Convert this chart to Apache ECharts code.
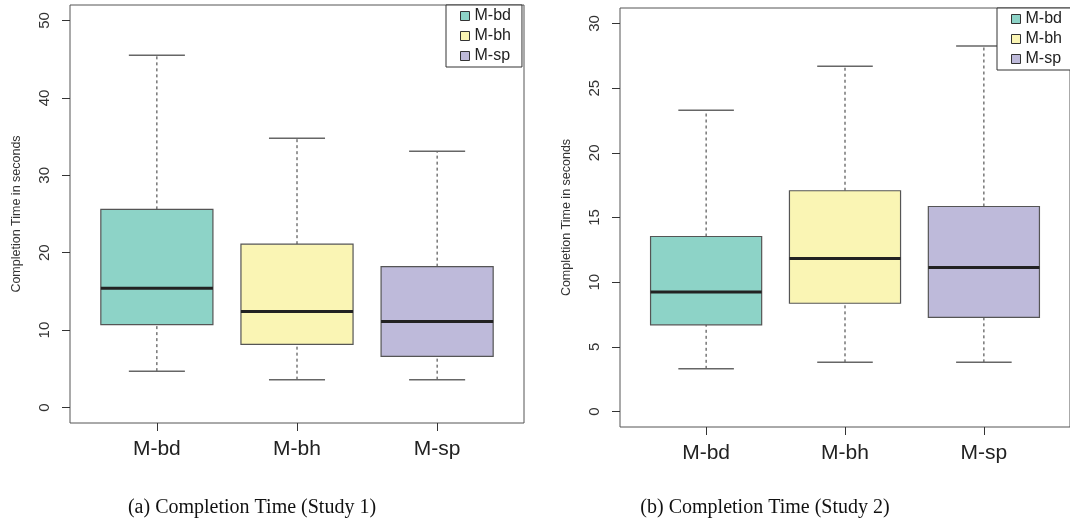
<!DOCTYPE html>
<html><head><meta charset="utf-8">
<script src="https://cdn.jsdelivr.net/npm/echarts@6/dist/echarts.min.js"></script>
<style>html,body{margin:0;padding:0;background:#fff}#c{width:1070px;height:532px}</style>
</head><body><div id="c"></div>
<script>
// ---- data ----
const categories = ['M-bd', 'M-bh', 'M-sp'];
const boxColors = ['#8DD3C7', '#FAF5B4', '#BEBADA'];

// Study 1 (per category): lower whisker, Q1, median, Q3, upper whisker
const s1Low    = [4.7, 3.6, 3.6];
const s1Q1     = [10.7, 8.15, 6.6];
const s1Median = [15.4, 12.4, 11.1];
const s1Q3     = [25.6, 21.1, 18.2];
const s1High   = [45.5, 34.8, 33.1];

// Study 2
const s2Low    = [3.3, 3.8, 3.8];
const s2Q1     = [6.7, 8.37, 7.28];
const s2Median = [9.24, 11.83, 11.13];
const s2Q3     = [13.53, 17.07, 15.85];
const s2High   = [23.3, 26.7, 28.27];

const yTicks1 = [0, 10, 20, 30, 40, 50];
const yTicks2 = [0, 5, 10, 15, 20, 25, 30];
const captions = ['(a) Completion Time (Study 1)', '(b) Completion Time (Study 2)'];
const yName = 'Completion Time in seconds';

// ---- chart ----
const FONT = '"Liberation Sans", Arial, Helvetica, sans-serif';

function renderBox(params, api) {
  const x = api.value(0);
  const lo = api.value(1), q1 = api.value(2), md = api.value(3), q3 = api.value(4), hi = api.value(5);
  const c = (xx, yy) => api.coord([xx, yy]);
  const pLo = c(x, lo), pQ1 = c(x, q1), pMd = c(x, md), pQ3 = c(x, q3), pHi = c(x, hi);
  const xl = c(x - 0.4, 0)[0], xr = c(x + 0.4, 0)[0];
  const cl = c(x - 0.2, 0)[0], cr = c(x + 0.2, 0)[0];
  const color = api.visual('color');
  const dash = { stroke: '#333', lineWidth: 1, lineDash: [3, 3] };
  const cap = { stroke: '#666', lineWidth: 1.5 };
  return {
    type: 'group',
    children: [
      { type: 'line', shape: { x1: pLo[0], y1: pLo[1], x2: pQ1[0], y2: pQ1[1] }, style: dash },
      { type: 'line', shape: { x1: pQ3[0], y1: pQ3[1], x2: pHi[0], y2: pHi[1] }, style: dash },
      { type: 'line', shape: { x1: cl, y1: pLo[1], x2: cr, y2: pLo[1] }, style: cap },
      { type: 'line', shape: { x1: cl, y1: pHi[1], x2: cr, y2: pHi[1] }, style: cap },
      { type: 'rect', shape: { x: xl, y: pQ3[1], width: xr - xl, height: pQ1[1] - pQ3[1] },
        style: { fill: color, stroke: '#555', lineWidth: 1.2 } },
      { type: 'line', shape: { x1: xl, y1: pMd[1], x2: xr, y2: pMd[1] }, style: { stroke: '#222', lineWidth: 3 } }
    ]
  };
}

const studies = [
  { low: s1Low, q1: s1Q1, med: s1Median, q3: s1Q3, high: s1High, ticks: yTicks1, min: -2, max: 52 },
  { low: s2Low, q1: s2Q1, med: s2Median, q3: s2Q3, high: s2High, ticks: yTicks2, min: -1.2, max: 31.2 }
];

const grids = [
  { left: 70, top: 5, width: 454, height: 418 },
  { left: 620, top: 8, width: 454, height: 419 }
];

const option = {
  animation: false,
  backgroundColor: '#fff',
  grid: grids.map(g => Object.assign({ show: true, borderColor: '#555', borderWidth: 1, backgroundColor: 'transparent' }, g)),
  xAxis: grids.map((g, i) => ({
    type: 'value', gridIndex: i, min: 0.38, max: 3.62,
    splitLine: { show: false }, axisLine: { show: false, onZero: false },
    axisTick: { show: true, length: 8, inside: false, customValues: [1, 2, 3], lineStyle: { color: '#333' } },
    axisLabel: { customValues: [1, 2, 3], formatter: v => categories[Math.round(v) - 1],
      fontSize: 21, color: '#222', margin: 16, fontFamily: FONT }
  })),
  yAxis: studies.map((s, i) => ({
    type: 'value', gridIndex: i, min: s.min, max: s.max,
    splitLine: { show: false }, axisLine: { show: false, onZero: false },
    axisTick: { show: true, length: 8, inside: false, customValues: s.ticks, lineStyle: { color: '#333' } },
    axisLabel: { customValues: s.ticks, rotate: 90, fontSize: 15, color: '#333', margin: 18, fontFamily: FONT },
    name: yName, nameLocation: 'middle', nameGap: 47,
    nameTextStyle: { fontSize: 12.5, color: '#333', fontFamily: FONT }
  })),
  legend: [
    { left: 446, top: 5 },
    { left: 997, top: 8 }
  ].map(p => ({
    left: p.left, top: p.top, orient: 'vertical', icon: 'rect',
    itemWidth: 9, itemHeight: 9, itemGap: 4, padding: [3, 11, 3, 14],
    borderColor: '#333', borderWidth: 1, borderRadius: 0, backgroundColor: '#fff',
    selectedMode: false,
    textStyle: { fontSize: 16, color: '#222', fontFamily: FONT },
    data: categories.map((n, i) => ({ name: n, itemStyle: { color: boxColors[i], borderColor: '#333', borderWidth: 1 } }))
  })),
  series: [],
  graphic: captions.map((t, i) => ({
    type: 'text', x: [252, 765][i], y: 508,
    style: { text: t, textAlign: 'center', textVerticalAlign: 'middle',
      font: '20px "Liberation Serif", "DejaVu Serif", serif', fill: '#111' }
  }))
};

studies.forEach((s, si) => {
  categories.forEach((name, ci) => {
    option.series.push({
      type: 'custom', name: name, xAxisIndex: si, yAxisIndex: si,
      itemStyle: { color: boxColors[ci] },
      encode: { x: 0, y: [1, 2, 3, 4, 5] },
      renderItem: renderBox,
      data: [[ci + 1, s.low[ci], s.q1[ci], s.med[ci], s.q3[ci], s.high[ci]]]
    });
  });
});

const chart = echarts.init(document.getElementById('c'), null, { renderer: 'canvas' });
chart.setOption(option);
</script>
</body></html>
